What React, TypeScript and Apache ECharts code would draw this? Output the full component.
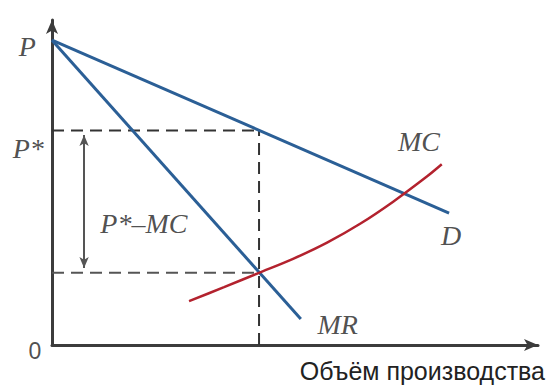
import React, { useEffect, useRef } from "react";
import * as echarts from "echarts";

// Economic diagram values (quantity Q on x, price on y)
const qStar = 42.6;         // Q* (MR = MC)
const pStar = 66.0;         // P*
const mcStar = 22.2;        // MC at Q*
const demandLine: [number, number][] = [[0, 93.8], [81.7, 40.6]];
const mrLine: [number, number][] = [[0, 93.8], [51.2, 8.0]];
const mcCurve: [number, number][] = [
  [28.2, 13.5], [35.4, 17.8], [42.6, 22.2], [49.6, 26.5], [56.6, 31.5],
  [63.4, 37.3], [70.2, 44.1], [77.2, 51.9], [80.2, 55.6],
];
const gapArrow: [number, number][] = [[6.6, 64.6], [6.6, 23.7]];
const labelNames = ["P", "P*", "P*–MC", "MR", "MC", "D"];
const labelQ = [-5.1, -4.9, 18.9, 58.8, 75.5, 82.1];
const labelP = [92.0, 60.6, 37.5, 6.2, 62.5, 33.8];
const originLabel = "0";
const originPos: [number, number] = [-3.5, -1.8];
const xAxisTitle = "Объём производства";

export default function App() {
  const ref = useRef<HTMLDivElement>(null);
  useEffect(() => {
    if (!ref.current) return;
    const chart = echarts.init(ref.current, undefined, { renderer: "svg" });
    const blue = "#2b5f96";
    const red = "#b3222e";
    const axisCol = "#3c3c3c";
    const dashed = (data: [number, number][], color: string) => ({
      type: "line",
      data,
      symbol: "none",
      silent: true,
      lineStyle: { color, width: 2, type: [12, 7] },
      z: 1,
    });
    const axisCommon = {
      type: "value",
      min: 0,
      max: 100,
      axisLine: {
        show: true,
        symbol: ["none", "arrow"],
        symbolSize: [9, 14],
        lineStyle: { color: axisCol, width: 3 },
      },
      axisTick: { show: false },
      axisLabel: { show: false },
      splitLine: { show: false },
    };
    const labelData: any[] = labelNames.map((n, i) => ({ name: n, value: [labelQ[i], labelP[i]] }));
    labelData.push({
      name: originLabel,
      value: originPos,
      label: { fontFamily: "Liberation Sans", fontStyle: "normal", fontSize: 23, color: "#222" },
    });
    chart.setOption({
      animation: false,
      backgroundColor: "#ffffff",
      grid: { left: 52, right: 11, top: 20, bottom: 41, containLabel: false, outerBoundsMode: "none" },
      graphic: [
        {
          type: "text",
          right: 4,
          top: 358,
          style: {
            text: xAxisTitle,
            font: "25px 'Liberation Sans', Arial, sans-serif",
            fill: "#222",
          },
        },
      ],
      xAxis: { ...axisCommon },
      yAxis: { ...axisCommon },
      series: [
        dashed([[0, pStar], [qStar, pStar]], "#333"),
        dashed([[qStar, 0], [qStar, pStar]], "#333"),
        dashed([[0, mcStar], [qStar, mcStar]], "#555"),
        {
          type: "line",
          data: [],
          silent: true,
          markLine: {
            silent: true,
            symbol: ["arrow", "arrow"],
            symbolSize: [7, 11],
            label: { show: false },
            lineStyle: { color: "#555", width: 2, type: "solid" },
            data: [[{ coord: gapArrow[0] }, { coord: gapArrow[1] }]],
          },
        },
        {
          type: "line",
          data: demandLine,
          symbol: "none",
          lineStyle: { color: blue, width: 3 },
          z: 3,
        },
        {
          type: "line",
          data: mrLine,
          symbol: "none",
          lineStyle: { color: blue, width: 3 },
          z: 3,
        },
        {
          type: "line",
          data: mcCurve,
          symbol: "none",
          smooth: 0.3,
          lineStyle: { color: red, width: 2.5 },
          z: 4,
        },
        {
          type: "scatter",
          clip: false,
          symbolSize: 0,
          silent: true,
          data: labelData,
          label: {
            show: true,
            position: "inside",
            formatter: (p: any) => p.name,
            fontFamily: "Liberation Serif",
            fontStyle: "italic",
            fontSize: 28,
            color: "#222",
          },
          labelLayout: { hideOverlap: false },
          z: 5,
        },
      ],
    });
    return () => chart.dispose();
  }, []);
  return (
    <div
      ref={ref}
      style={{ position: "fixed", left: 0, top: 0, width: 549, height: 386, background: "#fff" }}
    />
  );
}
